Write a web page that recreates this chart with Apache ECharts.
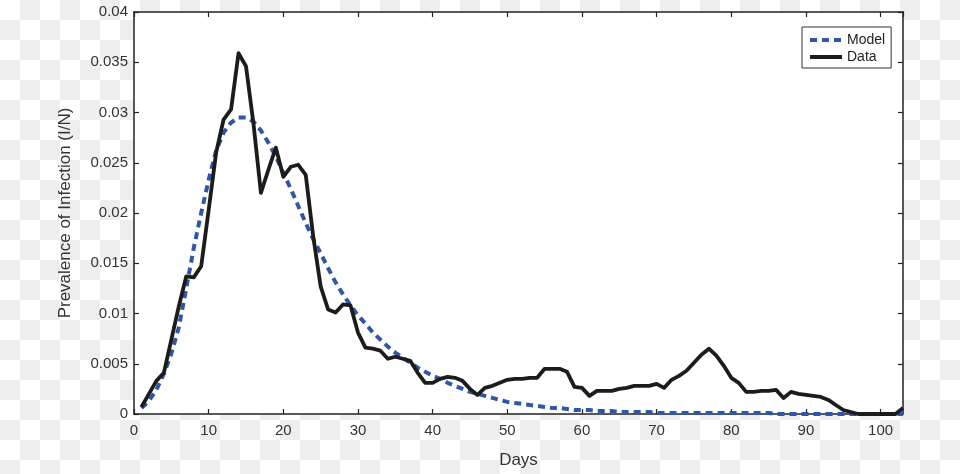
<!DOCTYPE html>
<html>
<head>
<meta charset="utf-8">
<script src="https://cdn.jsdelivr.net/npm/echarts@6/dist/echarts.min.js"></script>
<style>
  html, body { margin: 0; padding: 0; }
  body {
    width: 960px; height: 474px;
    background: repeating-conic-gradient(#eeeeee 0% 25%, #ffffff 0% 50%) 0 0 / 40px 40px;
  }
  #chart { width: 960px; height: 474px; }
</style>
</head>
<body>
<div id="chart"></div>
<script>
// Days 1..103
const days = [];
for (let d = 1; d <= 103; d++) days.push(d);

const dataValues = [
  0.0007, 0.0020, 0.0033, 0.0041, 0.0074, 0.0107, 0.0137, 0.0136, 0.0147, 0.0203,
  0.0260, 0.0293, 0.0303, 0.0359, 0.0346, 0.0289, 0.0220, 0.0243, 0.0265, 0.0236,
  0.0246, 0.0248, 0.0238, 0.0177, 0.0127, 0.0104, 0.0101, 0.0109, 0.0108, 0.0081,
  0.0066, 0.0065, 0.0063, 0.0055, 0.0057, 0.0055, 0.0053, 0.0041, 0.0031, 0.0031,
  0.0035, 0.0037, 0.0036, 0.0033, 0.0025, 0.0019, 0.0026, 0.0028, 0.0031, 0.0034,
  0.0035, 0.0035, 0.0036, 0.0036, 0.0045, 0.0045, 0.0045, 0.0042, 0.0027, 0.0026,
  0.0018, 0.0023, 0.0023, 0.0023, 0.0025, 0.0026, 0.0028, 0.0028, 0.0028, 0.0030,
  0.0026, 0.0034, 0.0038, 0.0043, 0.0051, 0.0059, 0.0065, 0.0058, 0.0048, 0.0036,
  0.0031, 0.0022, 0.0022, 0.0023, 0.0023, 0.0024, 0.0016, 0.0022, 0.0020, 0.0019,
  0.0018, 0.0017, 0.0014, 0.0009, 0.0004, 0.0002, 0.0000, 0.0000, 0.0000, 0.0000,
  0.0000, 0.0000, 0.0006
];

const modelValues = [
  0.0006, 0.0013, 0.0024, 0.0040, 0.0060, 0.0086, 0.0125, 0.0165, 0.0200, 0.0233,
  0.0262, 0.0280, 0.0290, 0.0295, 0.0295, 0.0291, 0.0282, 0.0270, 0.0256, 0.0240,
  0.0224, 0.0207, 0.0190, 0.0174, 0.0160, 0.0145, 0.0131, 0.0119, 0.0108, 0.0098,
  0.0090, 0.0081, 0.0074, 0.0067, 0.0061, 0.0056, 0.0051, 0.0046, 0.0042, 0.0038,
  0.0035, 0.0031, 0.0028, 0.0025, 0.0022, 0.0020, 0.0018, 0.0016, 0.0014, 0.0012,
  0.0011, 0.0010, 0.0009, 0.0008, 0.0007, 0.0006, 0.0006, 0.0005, 0.0004, 0.0004,
  0.0004, 0.0003, 0.0003, 0.0003, 0.0002, 0.0002, 0.0002, 0.0002, 0.0002, 0.0001,
  0.0001, 0.0001, 0.0001, 0.0001, 0.0001, 0.0001, 0.0001, 0.0001, 0.0001, 0.0001,
  0.0001, 0.0001, 0.0001, 0.0001, 0.0001, 0.0000, 0.0000, 0.0000, 0.0000, 0.0000,
  0.0000, 0.0000, 0.0000, 0.0000, 0.0000, 0.0000, 0.0000, 0.0000, 0.0000, 0.0000,
  0.0000, 0.0000, 0.0000
];

const seriesNames = ['Model', 'Data'];
const xTitle = 'Days';
const yTitle = 'Prevalence of Infection (I/N)';

const FONT = "'Liberation Sans', Arial, Helvetica, sans-serif";
const AXIS_COLOR = '#222222';
const MODEL_COLOR = '#3056a8';
const DATA_COLOR = '#1c1c1c';

function pairs(vals) { return days.map((d, i) => [d, vals[i]]); }

const chart = echarts.init(document.getElementById('chart'), null, { renderer: 'canvas' });

const axisCommon = {
  axisLine: { show: true, onZero: false, lineStyle: { color: AXIS_COLOR, width: 1.5 } },
  axisTick: { show: true, inside: true, length: 5, lineStyle: { color: AXIS_COLOR, width: 1.2 } },
  splitLine: { show: false }
};

chart.setOption({
  animation: false,
  textStyle: { fontFamily: FONT },
  grid: {
    left: 134, right: 57, top: 12, bottom: 59,
    show: true, backgroundColor: '#ffffff', borderWidth: 0
  },
  legend: {
    orient: 'vertical',
    left: 802, top: 27,
    padding: [6, 6, 4, 6],
    itemWidth: 32, itemHeight: 14, itemGap: 3,
    backgroundColor: '#ffffff',
    borderColor: '#333333', borderWidth: 1,
    itemStyle: { opacity: 0 },
    textStyle: { fontFamily: FONT, fontSize: 14, color: '#222222' },
    data: [
      { name: seriesNames[0], lineStyle: { width: 4, type: [7, 5], color: MODEL_COLOR, cap: 'butt' } },
      { name: seriesNames[1], lineStyle: { width: 4, color: DATA_COLOR } }
    ]
  },
  xAxis: [
    Object.assign({
      type: 'value', position: 'bottom', min: 0, max: 103, interval: 10,
      name: xTitle, nameLocation: 'middle', nameGap: 38,
      nameTextStyle: { fontFamily: FONT, fontSize: 17, color: '#333333' },
      axisLabel: { margin: 9, fontFamily: FONT, fontSize: 15, color: '#333333', showMaxLabel: false }
    }, axisCommon),
    Object.assign({
      type: 'value', position: 'top', min: 0, max: 103, interval: 10,
      axisLabel: { show: false }
    }, axisCommon)
  ],
  yAxis: [
    Object.assign({
      type: 'value', position: 'left', min: 0, max: 0.04, interval: 0.005,
      name: yTitle, nameLocation: 'middle', nameGap: 60,
      nameTextStyle: { fontFamily: FONT, fontSize: 17, color: '#333333' },
      axisLabel: { margin: 6, fontFamily: FONT, fontSize: 15, color: '#333333' }
    }, axisCommon),
    Object.assign({
      type: 'value', position: 'right', min: 0, max: 0.04, interval: 0.005,
      axisLabel: { show: false }
    }, axisCommon)
  ],
  series: [
    {
      name: seriesNames[0], type: 'line', xAxisIndex: 0, yAxisIndex: 0,
      data: pairs(modelValues), symbol: 'none', smooth: false,
      lineStyle: { color: MODEL_COLOR, width: 4, type: [7, 5], cap: 'butt' },
      itemStyle: { color: MODEL_COLOR },
      z: 2
    },
    {
      name: seriesNames[1], type: 'line', xAxisIndex: 0, yAxisIndex: 0,
      data: pairs(dataValues), symbol: 'none', smooth: false,
      lineStyle: { color: DATA_COLOR, width: 3.8, join: 'round' },
      itemStyle: { color: DATA_COLOR },
      z: 3
    }
  ]
});
</script>
</body>
</html>
